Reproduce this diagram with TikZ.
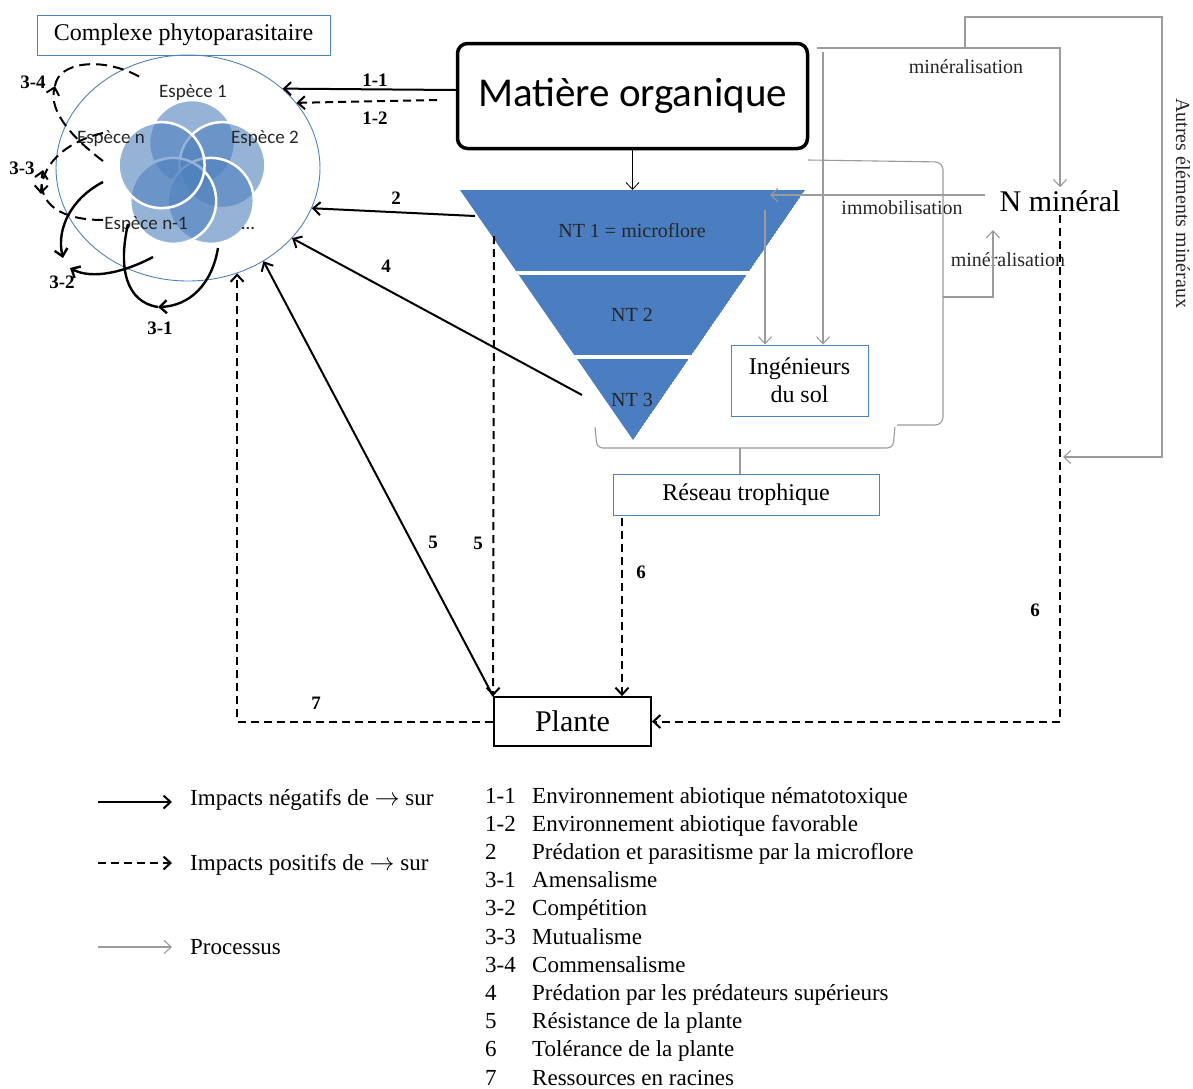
\documentclass[tikz,border=0pt]{standalone}
\usepackage{fontspec}
\setmainfont{Liberation Serif}
\newfontfamily\calib{Carlito}
\usetikzlibrary{positioning,shapes.geometric,arrows.meta,calc}
\definecolor{myblue}{RGB}{79,129,189}
\definecolor{pyrblue}{RGB}{74,126,192}
\definecolor{mygray}{RGB}{155,155,155}

\begin{document}
\begin{tikzpicture}[x=1pt,y=-1pt,
    >={Straight Barb[length=7pt,width=13pt]},
    negarrow/.style={->,line width=2pt},
    posarrow/.style={->,line width=2pt,dash pattern=on 8pt off 5pt},
    procarrow/.style={->,mygray,line width=1.1pt},
    procline/.style={mygray,line width=1.1pt},
    loopneg/.style={line width=2.4pt},
    looppos/.style={line width=2pt,dash pattern=on 11pt off 6pt},
    bluebox/.style={draw=myblue,line width=1pt,inner sep=0pt},
    spcirc/.style={circle,minimum size=86pt,inner sep=0pt,fill=myblue,fill opacity=0.6,draw=white,line width=2.5pt},
    sptxt/.style={font=\calib\fontsize{19}{22}\selectfont,inner sep=0pt,text=black!85},
    num/.style={font=\bfseries\fontsize{19}{22}\selectfont,inner sep=0pt},
    gtxt/.style={font=\fontsize{20}{24}\selectfont,inner sep=0pt,text=black!85},
    nttxt/.style={font=\fontsize{20}{24}\selectfont,inner sep=0pt,text=black!85},
    legtxt/.style={font=\fontsize{23}{26}\selectfont,inner sep=0pt,anchor=base west}
  ]
  \useasboundingbox (0,0) rectangle (1193,1088);

  % the complexe and its species
  \node[bluebox,minimum width=293pt,minimum height=40pt,font=\fontsize{24}{27}\selectfont] (cplxlbl) at (183.5,35) {Complexe phytoparasitaire};
  \node[ellipse,draw=myblue,line width=0.9pt,minimum width=264pt,minimum height=226pt,inner sep=0pt] (cplx) at (188,168) {};
  \foreach \a/\nm in {270/sp1,342/sp2,54/spd,126/spm,198/spn}
    \path (192,175) ++(\a:32) node[spcirc] (\nm) {};
  \node[sptxt] (t1) at (193,93) {Espèce 1};
  \node[sptxt] (t2) at (265,139) {Espèce 2};
  \node[sptxt] (tn) at (111,139) {Espèce n};
  \node[sptxt] (tm) at (146,225) {Espèce n-1};
  \node[sptxt] (td) at (248,228) {...};

  % matiere organique and the trophic pyramid
  \node[draw,line width=3.5pt,rounded corners=10pt,minimum width=350pt,minimum height=105pt,font=\calib\fontsize{41}{44}\selectfont] (mo) at (632.5,96) {Matière organique};
  \coordinate (pl) at (460,190);
  \coordinate (pr) at (805,190);
  \coordinate (pa) at (633,440);
  \begin{scope}
    \clip (pl) -- (pr) -- (pa) -- cycle;
    \fill[pyrblue] (pl) -- (pr) -- (pa) -- cycle;
    \draw[white,line width=4pt] (450,273) -- (815,273) (450,357) -- (815,357);
  \end{scope}
  \node[nttxt] (nt1) at (632,231) {NT 1 = microflore};
  \node[nttxt] (nt2) at (632,315) {NT 2};
  \node[nttxt] (nt3) at (632,400) {NT 3};

  \node[bluebox,minimum width=137pt,minimum height=71pt,align=center,font=\fontsize{24}{28}\selectfont] (ing) at (799.5,380.5) {Ingénieurs\\du sol};
  \node[bluebox,minimum width=266pt,minimum height=41pt,font=\fontsize{24}{28}\selectfont] (rt) at (746,494.5) {Réseau trophique};
  \node[draw,line width=1.8pt,minimum width=157pt,minimum height=49pt,font=\fontsize{30}{34}\selectfont] (plante) at (572.5,721.5) {Plante};
  \node[inner sep=3pt,font=\fontsize{30}{34}\selectfont] (nmin) at (1060,201) {N minéral};

  \node[gtxt] (min1) at (966,67) {minéralisation};
  \node[gtxt] (immo) at (902,208) {immobilisation};
  \node[gtxt] (min2) at (1008,260) {minéralisation};
  \node[gtxt,rotate=-90] (autres) at (1183,203) {Autres éléments minéraux};

  % the processes
  \coordinate (c1) at (817,48);
  \coordinate (c2) at (965,48);
  \coordinate (c3) at (1063,457);
  \coordinate (c4) at (823,52);
  \coordinate (c5s) at (985,195);
  \coordinate (c5) at (770,195);
  \coordinate (c6) at (765,210);
  \coordinate (c7) at (943,297);
  \coordinate (c8) at (740,448);
  \draw[procarrow] (c1) -| (nmin.north);
  \draw[procarrow] (c2) |- (1162,17) |- (c3);
  \draw[procarrow] (c4) -- (c4 |- ing.north);
  \draw[procarrow] (c5s) -- (c5);
  \draw[procarrow] (c6) -- (c6 |- ing.north);
  \draw[procline,rounded corners=8pt] (808,160) -- (943,162) -- (943,425) -- (897,425);
  \draw[procarrow] (c7) -| (993,230);
  \draw[procline,rounded corners=6pt] (595,427) -- (597,448) -- (893,448) -- (895,427);
  \draw[procline] (c8) -- (c8 |- rt.north);

  % the impacts
  \coordinate (s12) at (437,100);
  \coordinate (p2) at (475,216);
  \coordinate (p4) at (582,395);
  \coordinate (p5) at (494,236);
  \coordinate (r6) at (622,518);
  \draw[line width=0.8pt,->] (mo.south) -- (mo.south |- pl);
  \draw[negarrow] ([yshift=6pt]mo.west) -- (cplx.40);
  \draw[posarrow] (s12) -- (cplx.31);
  \draw[negarrow] (p2) -- (cplx.-18);
  \draw[negarrow] (p4) -- (cplx.-34);
  \draw[negarrow] (plante.north west) -- (cplx.-51);
  \draw[posarrow] (p5) -- (plante.north west);
  \draw[posarrow] (plante.west) -| (cplx.-65);
  \draw[posarrow] (nmin.south) |- (plante.east);
  \draw[posarrow] (r6) -- (r6 |- plante.north);

  \node[num] (l11) at (375,80) {1-1};
  \node[num] (l12) at (375,118) {1-2};
  \node[num] (l2) at (396,198) {2};
  \node[num] (l4) at (386,266) {4};
  \node[num] (l5a) at (433,542) {5};
  \node[num] (l5b) at (478,543) {5};
  \node[num] (l7) at (316,703) {7};
  \node[num] (l6a) at (641,572) {6};
  \node[num] (l6b) at (1035,610) {6};

  % interactions between species
  \coordinate (q4a) at (103,161);
  \coordinate (q4b) at (55,86);
  \coordinate (q4c) at (140,77);
  \coordinate (q3a) at (103,220);
  \coordinate (q3b) at (103,133);
  \coordinate (q3c) at (43,170);
  \coordinate (q3d) at (41,194);
  \coordinate (q2a) at (103,182);
  \coordinate (q2b) at (63,258);
  \coordinate (q2c) at (153,257);
  \coordinate (q2d) at (70,268);
  \coordinate (q1a) at (128,224);
  \coordinate (q1b) at (218,248);
  \coordinate (q1c) at (158,307);
  \draw[looppos,->] (q4a) .. controls (75,140) and (48,112) .. (q4b);
  \draw[looppos] (q4b) .. controls (58,62) and (102,56) .. (q4c);
  \draw[looppos,->] (q3a) .. controls (62,220) and (36,205) .. (q3c);
  \draw[looppos,->] (q3b) .. controls (72,140) and (42,160) .. (q3d);
  \draw[loopneg,->] (q2a) .. controls (72,198) and (56,228) .. (q2b);
  \draw[loopneg,->] (q2c) .. controls (125,272) and (92,280) .. (q2d);
  \draw[loopneg] (q1a) .. controls (118,268) and (126,302) .. (q1c);
  \draw[loopneg,->] (q1b) .. controls (212,284) and (190,306) .. (q1c);

  \node[num] (l34) at (33,82) {3-4};
  \node[num] (l33) at (22,168) {3-3};
  \node[num] (l32) at (62,282) {3-2};
  \node[num] (l31) at (160,328) {3-1};

  % the legend
  \coordinate (lg1a) at (98,802);
  \coordinate (lg1b) at (172,802);
  \coordinate (lg2a) at (98,863);
  \coordinate (lg2b) at (172,863);
  \coordinate (lg3a) at (98,947);
  \coordinate (lg3b) at (172,947);
  \draw[negarrow] (lg1a) -- (lg1b);
  \draw[posarrow] (lg2a) -- (lg2b);
  \draw[procarrow] (lg3a) -- (lg3b);
  \node[legtxt] (leg1) at (190,805) {Impacts négatifs de $\rightarrow$ sur};
  \node[legtxt] (leg2) at (190,870) {Impacts positifs de $\rightarrow$ sur};
  \node[legtxt] (leg3) at (190,954) {Processus};

  \foreach \nb/\txt [count=\k from 0] in {1-1/Environnement abiotique nématotoxique,1-2/Environnement abiotique favorable,2/Prédation et parasitisme par la microflore,3-1/Amensalisme,3-2/Compétition,3-3/Mutualisme,3-4/Commensalisme,4/Prédation par les prédateurs supérieurs,5/Résistance de la plante,6/Tolérance de la plante,7/Ressources en racines}
  {
    \node[legtxt] (nb\k) at (485,{803+28.2*\k}) {\nb};
    \node[legtxt] (tx\k) at (532,{803+28.2*\k}) {\txt};
  }
\end{tikzpicture}
\end{document}
